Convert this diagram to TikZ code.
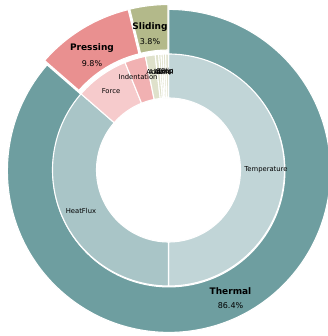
\documentclass[tikz,border=0pt]{standalone}
\usepackage{fontspec}
\setmainfont{DejaVu Sans}
\usepackage{tikz}
\definecolor{thermal}{HTML}{6E9EA0}
\definecolor{pressing}{HTML}{E99090}
\definecolor{sliding}{HTML}{B3B98A}
\definecolor{temperature}{HTML}{C1D5D7}
\definecolor{heatflux}{HTML}{A9C5C7}
\definecolor{force}{HTML}{F6CBCC}
\definecolor{indentation}{HTML}{F1B1B2}
\definecolor{slidepart}{HTML}{DFE1CB}
\tikzset{
    wedgeline/.style={draw=white,line width=1.1pt},
    outername/.style={inner sep=0pt,font=\fontsize{9}{10}\selectfont\bfseries},
    outerpct/.style={inner sep=0pt,font=\fontsize{8}{9}\selectfont},
    innername/.style={inner sep=0pt,font=\fontsize{6.8}{8}\selectfont}
}
% one piece of a ring: colour, from angle, to angle, inner radius, outer radius, explode
\newcommand{\ringwedge}[6]{%
  \pgfmathsetmacro{\midang}{(#2+#3)/2}
  \fill[wedgeline,fill=#1,shift={(\midang:#6pt)}]
    (#2:#5pt) arc[start angle=#2,end angle=#3,radius=#5pt]
    -- (#3:#4pt) arc[start angle=#3,end angle=#2,radius=#4pt] -- cycle;
}

\begin{document}
\begin{tikzpicture}[x=1pt,y=1pt]
\useasboundingbox (-168.5,-166) rectangle (159.5,170);

% outer ring
\ringwedge{thermal}{-221.04}{90}{116}{161.5}{1}
\ringwedge{pressing}{103.7}{138.96}{116}{161.5}{4}
\ringwedge{sliding}{90}{103.7}{116}{161.5}{4}

% inner ring
\ringwedge{temperature}{-90}{90}{72}{116}{0}
\ringwedge{heatflux}{-221.04}{-90}{72}{116}{0}
\ringwedge{force}{112}{138.96}{72}{116}{0}
\ringwedge{indentation}{101.5}{112}{72}{116}{0}
\foreach \a/\b in {96.6/101.5,94.9/96.6,93.7/94.9,92.6/93.7,91.4/92.6,90/91.4}{
  \ringwedge{slidepart}{\a}{\b}{72}{116}{0}
}

% outer labels
\node[outername] (thermal) at (62,-121) {Thermal};
\node[outerpct] (thermalpct) at (62,-136) {86.4\%};
\node[outername] (pressing) at (-76.5,122) {Pressing};
\node[outerpct] (pressingpct) at (-76.5,106) {9.8\%};
\node[outername] (sliding) at (-18.5,143) {Sliding};
\node[outerpct] (slidingpct) at (-18.5,128) {3.8\%};

% inner labels
\node[innername] (temp) at (97.5,0) {Temperature};
\node[innername] (flux) at (-87.5,-41) {HeatFlux};
\node[innername] (force) at (-57.5,79) {Force};
\node[innername] (indent) at (-30.5,93) {Indentation};
\node[innername] (acid) at (-15,98) {Acid};
\node[innername] (air) at (-9.6,98) {Air};
\node[innername] (alcohol) at (-7.2,98) {Alcohol};
\node[innername] (ash) at (-5.3,98) {Ash};
\node[innername] (drop) at (-3.4,98) {Drop};
\node[innername] (slip) at (-1.2,98) {Slip};

\end{tikzpicture}
\end{document}
